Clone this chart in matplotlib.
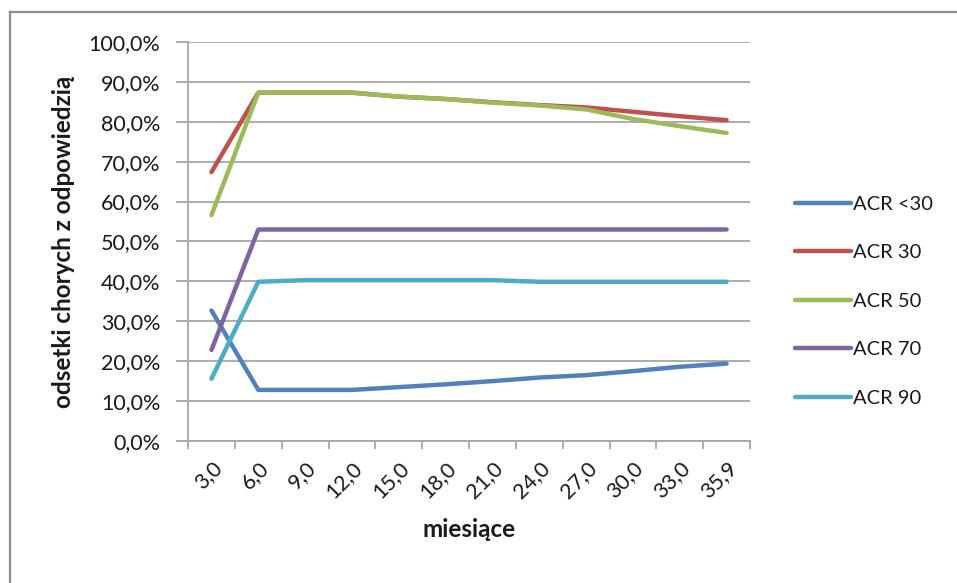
import matplotlib.pyplot as plt
from matplotlib.lines import Line2D
from matplotlib.ticker import FuncFormatter, FixedLocator

# months of follow-up (category labels on the x axis)
months = ["3,0", "6,0", "9,0", "12,0", "15,0", "18,0", "21,0", "24,0",
          "27,0", "30,0", "33,0", "35,9"]

# share of patients with response, in percent
acr_lt30 = [32.7, 12.8, 12.8, 12.8, 13.5, 14.2, 15.0, 15.9, 16.5, 17.5, 18.6, 19.4]
acr_30 = [67.4, 87.3, 87.3, 87.3, 86.3, 85.7, 84.9, 84.2, 83.6, 82.5, 81.4, 80.4]
acr_50 = [56.6, 87.3, 87.3, 87.3, 86.3, 85.7, 84.8, 84.1, 83.1, 80.7, 78.9, 77.2]
acr_70 = [22.8, 53.0, 53.0, 53.0, 53.0, 53.0, 53.0, 53.0, 53.0, 53.0, 53.0, 53.0]
acr_90 = [15.6, 39.9, 40.3, 40.3, 40.3, 40.3, 40.3, 39.9, 39.9, 39.9, 39.9, 39.9]

series = [
    ("ACR <30", acr_lt30, "#4F81BD"),
    ("ACR 30", acr_30, "#C0504D"),
    ("ACR 50", acr_50, "#9BBB59"),
    ("ACR 70", acr_70, "#8064A2"),
    ("ACR 90", acr_90, "#4BACC6"),
]

plt.rcParams['font.family'] = ['Lato', 'DejaVu Sans']
text_col = "#1a1a1a"
grid_col = "#a6a6a6"
tick_fs = 15.5

fig = plt.figure(figsize=(9.57, 5.83), dpi=100)
ax = fig.add_axes([0.1965, 0.2436, 0.5872, 0.6844])

x = list(range(len(months)))
for name, vals, col in series:
    ax.plot(x, vals, color=col, lw=3.2, solid_capstyle='round',
            solid_joinstyle='round', label=name)

# y axis: 0-100 % with gridlines every 10 %
ax.set_ylim(0, 100)
ax.set_yticks(range(0, 101, 10))
ax.yaxis.set_major_formatter(FuncFormatter(lambda v, p: f"{v:.1f}%".replace(".", ",")))
ax.grid(axis='y', color=grid_col, lw=1.3)
ax.set_axisbelow(True)

# x axis: labels centred in each category, tick marks on the boundaries
ax.set_xlim(-0.5, len(months) - 0.5)
ax.set_xticks(x)
ax.set_xticklabels(months, rotation=45, ha='right', va='top',
                   rotation_mode='anchor', fontsize=tick_fs, color=text_col)
ax.xaxis.set_minor_locator(FixedLocator([i - 0.5 for i in range(len(months) + 1)]))
ax.tick_params(axis='x', which='major', length=0, pad=12)
ax.tick_params(axis='x', which='minor', length=6, color=grid_col, width=1.3)
ax.tick_params(axis='y', length=9, color=grid_col, width=1.3, pad=11,
               labelsize=tick_fs, labelcolor=text_col)

for side in ('top', 'right'):
    ax.spines[side].set_visible(False)
for side in ('left', 'bottom'):
    ax.spines[side].set_color(grid_col)
    ax.spines[side].set_linewidth(1.3)

ax.set_xlabel("miesiące", fontsize=17.5, fontweight='bold', color=text_col, labelpad=12)
ax.set_ylabel("odsetki chorych z odpowiedzią", fontsize=17.5, fontweight='bold',
              color=text_col, labelpad=10)

fig.legend(loc='center left', bbox_to_anchor=(0.812, 0.483), frameon=False,
           fontsize=14.5, handlelength=2.75, handletextpad=0.12,
           labelspacing=1.56, labelcolor=text_col)

# chart area border (left and top edges)
fig.add_artist(Line2D([10 / 957, 10 / 957], [0, 1 - 12 / 583],
                      transform=fig.transFigure, color="#8c8c8c", lw=1.6))
fig.add_artist(Line2D([10 / 957, 1], [1 - 12 / 583, 1 - 12 / 583],
                      transform=fig.transFigure, color="#8c8c8c", lw=1.6))

fig.savefig("out.png", dpi=100, facecolor='white')
